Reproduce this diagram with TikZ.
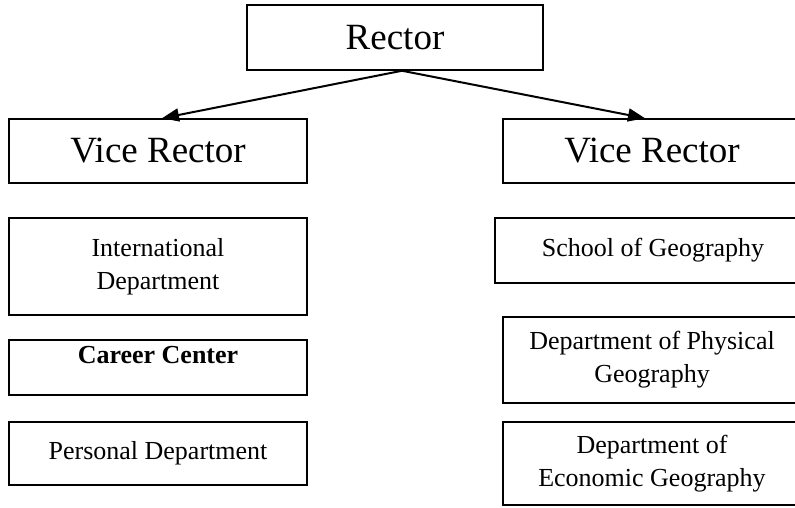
\documentclass[tikz,border=0pt]{standalone}
\usepackage{fontspec}
\setmainfont{Liberation Serif}
\usetikzlibrary{arrows.meta}
\begin{document}
\begin{tikzpicture}[x=1pt,y=-1pt,
  box/.style={draw, line width=1.5pt, rectangle, inner sep=0pt, align=center,
    minimum width=298pt, font=\fontsize{26}{33}\selectfont},
  bigbox/.style={box, font=\fontsize{37}{44}\selectfont},
  link/.style={line width=2pt, -{Triangle[length=17pt,width=13pt]}}]
\useasboundingbox (0,0) rectangle (795,508);
\clip (0,0) rectangle (795,508);

% top of the hierarchy
\node[bigbox, minimum width=296pt, minimum height=65pt] (rector) at (395,37.5) {Rector};

% the two vice rectors
\node[bigbox, minimum height=64pt] (vl) at (158,151) {Vice Rector};
\node[bigbox, minimum height=64pt] (vr) at (652,151) {Vice Rector};

% units under the left vice rector
\node[box, minimum height=97pt] (intl) at (158,266.5) {International\\Department};
\node[box, minimum height=55pt, text height=18pt, text depth=27pt,
      font=\fontsize{26}{33}\selectfont\bfseries] (career) at (158,367.5) {Career Center};
\node[box, minimum height=63pt] (pers) at (158,453.5) {Personal Department};

% units under the right vice rector
\node[box, minimum width=316pt, minimum height=65pt] (school) at (653,250.5) {School of Geography};
\node[box, minimum height=86pt] (phys) at (652,360) {Department of Physical\\Geography};
\node[box, minimum height=83pt] (econ) at (652,463.5) {Department of\\Economic Geography};

% reporting lines
\draw[link] ([xshift=7pt]rector.south) -- ([xshift=4pt]vl.north);
\draw[link] ([xshift=7pt]rector.south) -- ([xshift=-7pt]vr.north);
\end{tikzpicture}
\end{document}
